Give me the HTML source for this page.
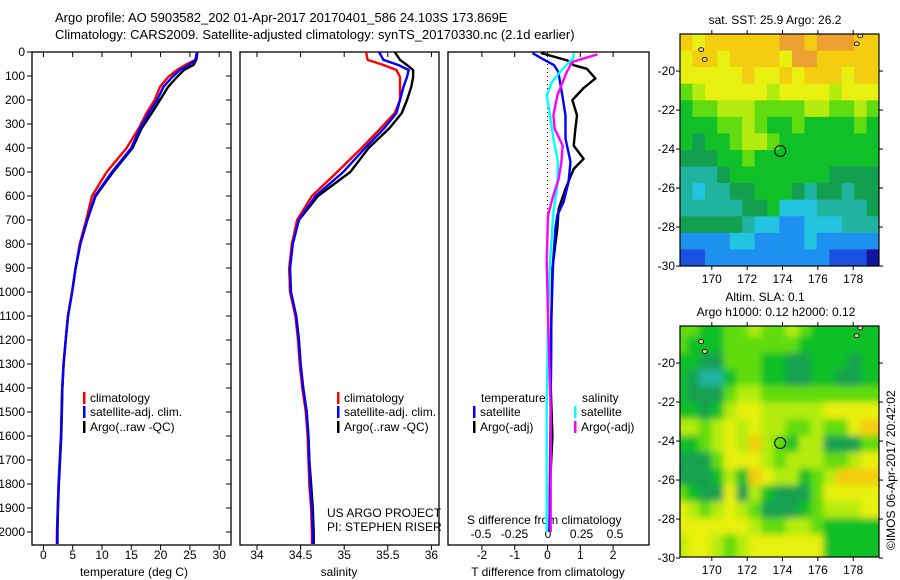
<!DOCTYPE html>
<html><head><meta charset="utf-8">
<style>
html,body{margin:0;padding:0;background:#fff;}
svg{display:block;font-family:"Liberation Sans",sans-serif;}
text{fill:#000;}
</style></head>
<body>
<svg id="chart" width="900" height="580" viewBox="0 0 900 580" xmlns="http://www.w3.org/2000/svg">
<defs>
<filter id="blur" x="0" y="0" width="1" height="1"><feGaussianBlur stdDeviation="3.5"/></filter>
<clipPath id="clipTop"><rect x="680" y="34" width="199" height="232"/></clipPath>
<clipPath id="clipBot"><rect x="680" y="326" width="199" height="231"/></clipPath>
</defs>
<text x="55" y="22" font-size="13">Argo profile: AO 5903582_202 01-Apr-2017 20170401_586 24.103S 173.869E</text>
<text x="55" y="39" font-size="13">Climatology: CARS2009. Satellite-adjusted climatology: synTS_20170330.nc (2.1d earlier)</text>
<g id="g"></g>
</svg>
<script>
// ---------- data ----------
const depthLevels = [0,33,54,75,104,145,200,254,317,400,500,600,700,800,900,1000,1100,1200,1300,1400,1500,1600,1700,1800,1900,2000,2050];
const tempClim   = [26.2,25.9,24.2,22.8,21.3,19.9,19.0,17.6,16.3,14.2,10.8,8.3,7.3,6.2,5.5,4.9,4.2,3.8,3.45,3.2,3.1,3.0,2.8,2.6,2.45,2.3,2.3];
const tempSat    = [26.2,26.0,24.8,23.3,22.0,20.5,19.4,18.0,16.5,15.0,11.7,8.8,7.5,6.3,5.5,4.9,4.2,3.8,3.45,3.2,3.1,3.0,2.8,2.6,2.45,2.35,2.35];
const tempArgo   = [26.3,26.1,25.6,24.0,22.8,21.3,19.9,18.5,16.8,15.2,11.9,8.9,7.5,6.3,5.5,4.9,4.2,3.8,3.45,3.25,3.15,3.05,2.85,2.65,2.5,2.4,2.4];
const salClim    = [35.25,35.27,35.45,35.6,35.64,35.64,35.64,35.58,35.42,35.2,34.92,34.63,34.46,34.4,34.37,34.38,34.44,34.47,34.49,34.52,34.56,34.58,34.59,34.6,34.62,34.63,34.63];
const salSat     = [35.4,35.45,35.62,35.74,35.72,35.68,35.64,35.6,35.46,35.24,34.99,34.67,34.48,34.41,34.38,34.39,34.45,34.48,34.5,34.53,34.57,34.59,34.6,34.61,34.63,34.64,34.64];
const salArgo    = [35.58,35.64,35.72,35.79,35.79,35.77,35.72,35.66,35.52,35.28,35.07,34.7,34.48,34.4,34.37,34.38,34.45,34.48,34.5,34.53,34.57,34.59,34.6,34.62,34.64,34.65,34.65];

const dDepthTSat = [4,25,55,83,180,264,361,458,542,625,680,736,875,1100,1400,1700,2000];
const dTSat      = [-0.46,-0.2,0.2,0.33,0.45,0.55,0.55,0.7,0.64,0.49,0.3,0.24,0.17,0.12,0.1,0.08,0.06];
const dDepthTArgo= [4,35,55,70,110,150,200,264,320,390,445,487,570,653,736,903,1100,1400,1600,1800,2000];
const dTArgo     = [-0.2,0.6,0.8,1.2,1.46,1.1,0.76,0.9,0.85,0.8,1.1,0.8,0.55,0.34,0.3,0.15,0.12,0.1,0.15,0.08,0.06];
const dDepthSSat = [4,25,42,83,125,180,264,361,458,555,666,875,1100,1500,2000];
const dSSat      = [0.19,0.19,0.16,0.09,0.03,-0.01,0.015,0.04,0.075,0.07,0.04,0.015,0,-0.01,-0.01];
const dDepthSArgo= [10,28,42,83,180,264,320,390,458,528,597,680,875,1100,1500,2000];
const dSArgo     = [0.37,0.26,0.18,0.14,0.07,0.04,0.05,0.11,0.1,0.08,0.04,0,-0.01,0,0.02,0.02];

const depthTicks = [0,100,200,300,400,500,600,700,800,900,1000,1100,1200,1300,1400,1500,1600,1700,1800,1900,2000];
const tempTicks = [0,5,10,15,20,25,30];
const salTicks = [34,34.5,35,35.5,36];
const tdiffTicks = [-2,-1,0,1,2];
const sdiffTicks = [-0.5,-0.25,0,0.25,0.5];
const lonTicks = [170,172,174,176,178];
const latTicks = [-20,-22,-24,-26,-28,-30];

// SST map rows (north to south), colour class codes
const sstRows = [
"a9aaaaaabbabbbaa","9aa9aaaa9bbaaaaa","99999a99a9aaa9aa","7899999899998999",
"6778887777887787","6667787667666676","6566788766666666","5556676666666666",
"4445666666665555","4344556665455455","4444455633344445","5555543322333444",
"2222332222322222","1122222222221110"];
// SLA map rows
const slaRows = [
"7766778778766666","7666777777666666","6655777665566656","6544677665566556",
"6555788777777777","6656899888889999","887898988778779a","667898a876885557",
"5557999878887789","555686a988678aaa","7655958655579999","9878987555678889",
"9999998778876666","8998789999996666"];
const sstArgo = {lon:173.869, lat:-24.103};

// ---------- helpers ----------
const NS="http://www.w3.org/2000/svg";
const G=document.getElementById('g');
function mk(tag,attrs,parent){const e=document.createElementNS(NS,tag);for(const k in attrs)e.setAttribute(k,attrs[k]);(parent||G).appendChild(e);return e;}
function txt(s,x,y,attrs,parent){const e=mk('text',Object.assign({x:x,y:y,'font-size':12},attrs||{}),parent);e.textContent=s;return e;}

const Y0=52, YB=545;
const yD = d => Y0 + d*0.24;
const xT = v => 43.4 + v*5.86;
const xS = v => 257 + (v-34)*87.2;
const xTd = v => 547.5 + v*32.8;
const xSd = v => 548 + v*134;

function panel(name,x0,x1){
  const r=mk('rect',{x:x0,y:Y0,width:x1-x0,height:YB-Y0,fill:'none',stroke:'#000','stroke-width':1.3});
  
  
}
panel('temperature-panel',32,231);
panel('salinity-panel',240,439);
panel('difference-panel',448,649);

depthTicks.forEach(d=>{
  mk('line',{x1:27,x2:32,y1:yD(d),y2:yD(d),stroke:'#000'});
  mk('line',{x1:226,x2:231,y1:yD(d),y2:yD(d),stroke:'#000'});
  const t=txt(String(d),25,yD(d)+4,{'text-anchor':'end'});
  
  
});

function xaxis(ticks,fx,yl,fmt,name){
  ticks.forEach(v=>{
    const x=fx(v);
    mk('line',{x1:x,x2:x,y1:Y0,y2:Y0+5,stroke:'#000'});
    mk('line',{x1:x,x2:x,y1:YB,y2:YB+5,stroke:'#000'});
    const t=txt(fmt(v),x,yl,{'text-anchor':'middle'});
    
    
  });
}
xaxis(tempTicks,xT,559,v=>String(v),'temperature-tick-label');
xaxis(salTicks,xS,559,v=>String(v),'salinity-tick-label');
xaxis(tdiffTicks,xTd,559,v=>String(v),'tdiff-tick-label');
sdiffTicks.forEach(v=>{const t=txt(String(v),xSd(v),538,{'text-anchor':'middle'});
  
  });

let t;
t=txt('temperature (deg C)',134,576,{'text-anchor':'middle'});
t=txt('salinity',339,576,{'text-anchor':'middle'});
t=txt('T difference from climatology',548,576,{'text-anchor':'middle'});
t=txt('S difference from climatology',467,524,{});
t=txt('US ARGO PROJECT',327,517,{});
t=txt('PI: STEPHEN RISER',327,531,{});

const zl=mk('line',{x1:xTd(0),x2:xTd(0),y1:Y0,y2:yD(700),stroke:'#000','stroke-dasharray':'1,3'});


function series(name,depths,vals,fx,color,w){
  const pts=depths.map((d,i)=>fx(vals[i]).toFixed(1)+','+yD(d).toFixed(1)).join(' ');
  const p=mk('polyline',{points:pts,fill:'none',stroke:color,'stroke-width':w||2.4,'stroke-linejoin':'round'});
  
  
}
series('temp-argo-line',depthLevels,tempArgo,xT,'#000');
series('temp-clim-line',depthLevels,tempClim,xT,'#f00');
series('temp-sat-line',depthLevels,tempSat,xT,'#00f');
series('sal-argo-line',depthLevels,salArgo,xS,'#000');
series('sal-clim-line',depthLevels,salClim,xS,'#f00');
series('sal-sat-line',depthLevels,salSat,xS,'#00f');
series('tdiff-argo-line',dDepthTArgo,dTArgo,xTd,'#000');
series('tdiff-sat-line',dDepthTSat,dTSat,xTd,'#00f');
series('sdiff-sat-line',dDepthSSat,dSSat,xSd,'#0ff');
series('sdiff-argo-line',dDepthSArgo,dSArgo,xSd,'#f0f');

function legend(x,y,color,label,name){
  const m=mk('rect',{x:x,y:y-10,width:2.5,height:12,fill:color});
  
  
  const tt=txt(label,x+7,y,{});
  
  
}
legend(83,402,'#f00','climatology','legend-temp-clim');
legend(83,416,'#00f','satellite-adj. clim.','legend-temp-sat');
legend(83,431,'#000','Argo(..raw -QC)','legend-temp-argo');
legend(337,402,'#f00','climatology','legend-sal-clim');
legend(337,416,'#00f','satellite-adj. clim.','legend-sal-sat');
legend(337,431,'#000','Argo(..raw -QC)','legend-sal-argo');
t=txt('temperature',481,402,{});
t=txt('salinity',582,402,{});
legend(473,416,'#00f','satellite','legend-tdiff-sat');
legend(473,431,'#000','Argo(-adj)','legend-tdiff-argo');
legend(574,416,'#0ff','satellite','legend-sdiff-sat');
legend(574,431,'#f0f','Argo(-adj)','legend-sdiff-argo');

// ---------- maps ----------
const cmap={'0':'#1414a0','1':'#1c50e0','2':'#1e90f0','3':'#22c4e0','4':'#20b4a0','5':'#12a050','6':'#10c028','7':'#60dc10','8':'#b4ec10','9':'#e8f010','a':'#f4cc10','b':'#eca030'};
const LON0=168.2, LON1=179.46;
function mapBox(name,top,bottom,lat0,pxPerDeg,rows,clip,blur,titleLines){
  const xL=lon=>680+(lon-LON0)/(LON1-LON0)*199;
  const yL=lat=>top+(lat0-lat)*pxPerDeg;
  const LATB=lat0-(bottom-top)/pxPerDeg;
  const grp=mk('g',{'clip-path':'url(#'+clip+')'});
  
  
  const inner=mk('g',blur?{filter:'url(#blur)'}:{},grp);
  const nr=rows.length, nc=rows[0].length;
  const dLat=(LATB-lat0)/nr, dLon=(LON1-LON0)/nc;
  rows.forEach((row,i)=>{
    for(let j=0;j<nc;j++){
      const x=xL(LON0+j*dLon), y=yL(lat0+i*dLat);
      const x2=xL(LON0+(j+1)*dLon), y2=yL(lat0+(i+1)*dLat);
      const pad=blur?6:0;
      const c=mk('rect',{x:(x-pad).toFixed(1),y:(y-pad).toFixed(1),width:(x2-x+0.6+2*pad).toFixed(1),height:(y2-y+0.6+2*pad).toFixed(1),fill:cmap[row[j]]},inner);
      
      
    }
  });
  [[169.4,-18.9],[169.6,-19.4],[178.4,-18.2],[178.2,-18.6]].forEach(p=>{
    mk('ellipse',{cx:xL(p[0]),cy:yL(p[1]),rx:2.5,ry:2,fill:'#f0c0a0',stroke:'#000','stroke-width':0.8},grp);
  });
  const circ=mk('circle',{cx:xL(sstArgo.lon),cy:yL(sstArgo.lat),r:5.5,fill:'none',stroke:'#000','stroke-width':1});
  
  
  const b=mk('rect',{x:680,y:top,width:199,height:bottom-top,fill:'none',stroke:'#000','stroke-width':1.2});
  
  
  lonTicks.forEach(v=>{const x=xL(v);
    mk('line',{x1:x,x2:x,y1:top-4,y2:top,stroke:'#000'});
    mk('line',{x1:x,x2:x,y1:bottom,y2:bottom+4,stroke:'#000'});
    const tt=txt(String(v),x,bottom+17,{'text-anchor':'middle'});
    
    });
  latTicks.forEach(v=>{const y=yL(v);
    mk('line',{x1:676,x2:680,y1:y,y2:y,stroke:'#000'});
    mk('line',{x1:879,x2:883,y1:y,y2:y,stroke:'#000'});
    const tt=txt(String(v),675,y+4,{'text-anchor':'end'});
    
    });
  titleLines.forEach(s=>{const tt=txt(s.t,s.x,s.y,{'text-anchor':'middle'});
    
    });
}
mapBox('sst-map',34,266,-18.1,19.5,sstRows,'clipTop',false,[{t:'sat. SST: 25.9  Argo: 26.2',x:775,y:24}]);
mapBox('sla-map',326,557,-18.1,19.5,slaRows,'clipBot',true,[{t:'Altim. SLA: 0.1',x:765,y:301},{t:'Argo h1000: 0.12  h2000: 0.12',x:776,y:316}]);

t=txt('\u00A9IMOS 06-Apr-2017 20:42:02',0,0,{transform:'translate(895,550) rotate(-90)'});


</script>
</body></html>
